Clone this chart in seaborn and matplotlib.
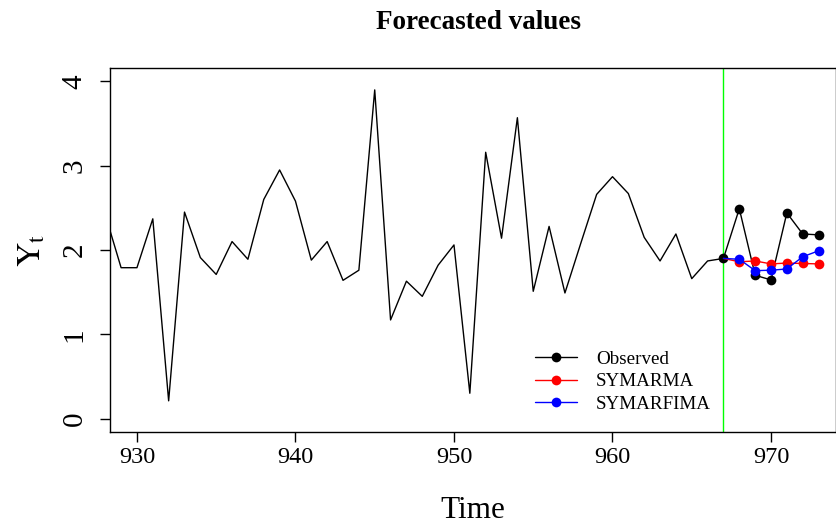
import numpy as np
import pandas as pd
import seaborn as sns
import matplotlib
matplotlib.use("Agg")
import matplotlib.pyplot as plt

sns.set_theme(style="white")
plt.rcParams['font.family'] = ['Liberation Serif', 'DejaVu Serif']
plt.rcParams['mathtext.fontset'] = 'stix'
plt.rcParams['text.color'] = 'black'
plt.rcParams['axes.labelcolor'] = 'black'

# ---- data ----
years_hist = list(range(928, 968))
values_hist = [2.42, 1.79, 1.79, 2.37, 0.21, 2.45, 1.91, 1.71, 2.10, 1.89,
               2.60, 2.95, 2.58, 1.88, 2.10, 1.64, 1.76, 3.90, 1.17, 1.63,
               1.45, 1.82, 2.06, 0.30, 3.16, 2.14, 3.57, 1.51, 2.28, 1.49,
               2.08, 2.66, 2.87, 2.67, 2.15, 1.87, 2.19, 1.66, 1.87, 1.90]
years_fc = list(range(967, 974))
observed = [1.90, 2.49, 1.70, 1.645, 2.44, 2.19, 2.18]
symarma = [1.90, 1.86, 1.87, 1.835, 1.845, 1.84, 1.835]
symarfima = [1.90, 1.89, 1.755, 1.76, 1.775, 1.92, 1.99]
forecast_origin = 967
series_names = ["Observed", "SYMARMA", "SYMARFIMA"]
series_colors = ["black", "red", "blue"]
x_ticks = [930, 940, 950, 960, 970]
y_ticks = [0, 1, 2, 3, 4]

hist = pd.DataFrame({"Time": years_hist, "Y": values_hist})
fc = pd.DataFrame({"Time": years_fc, "Observed": observed,
                   "SYMARMA": symarma, "SYMARFIMA": symarfima})

fig = plt.figure(figsize=(8.36, 5.27), dpi=100)
ax = fig.add_axes([110/836, 1-432/527, 1-110/836, (432-68)/527])

sns.lineplot(data=hist, x="Time", y="Y", color="black", lw=1.0, ax=ax)
ax.axvline(forecast_origin, color="#00ff00", lw=1.0)

for name, col in zip(series_names, series_colors):
    mk = None if name == "Observed" else slice(1, None)
    sns.lineplot(data=fc, x="Time", y=name, color=col, lw=1.0, marker="o",
                 markersize=7, markeredgewidth=0, markevery=mk, ax=ax,
                 label=name)

ax.set_xlim(928.3, 974.1)
ax.set_ylim(-0.16, 4.16)
ax.set_xticks(x_ticks)
ax.set_xticklabels([str(v) for v in x_ticks], fontsize=17.5, color='black')
ax.set_yticks(y_ticks)
ax.set_yticklabels([str(v) for v in y_ticks], fontsize=21, color='black',
                   rotation=90, va='center')
ax.tick_params(axis='both', direction='out', length=7, width=1, color='black',
               bottom=True, left=True, pad=4)
ax.tick_params(axis='y', pad=9)
for s in ax.spines.values():
    s.set_color('black')
    s.set_linewidth(1.0)

ax.set_xlabel("Time", fontsize=22.5, labelpad=20)
ax.set_ylabel(r"$\mathrm{Y}_{\mathrm{t}}$", fontsize=24, labelpad=10)
fig.text(0.572, 0.958, "Forecasted values", ha='center', va='center',
         fontsize=19.5, fontweight='bold')

leg = ax.legend(loc='upper left', bbox_to_anchor=(522/836, 1-337/527),
                bbox_transform=fig.transFigure, frameon=False, fontsize=13.7,
                handlelength=2.2, handletextpad=1.0, labelspacing=0.28,
                borderpad=0.2)

fig.savefig("out.png", dpi=100)
